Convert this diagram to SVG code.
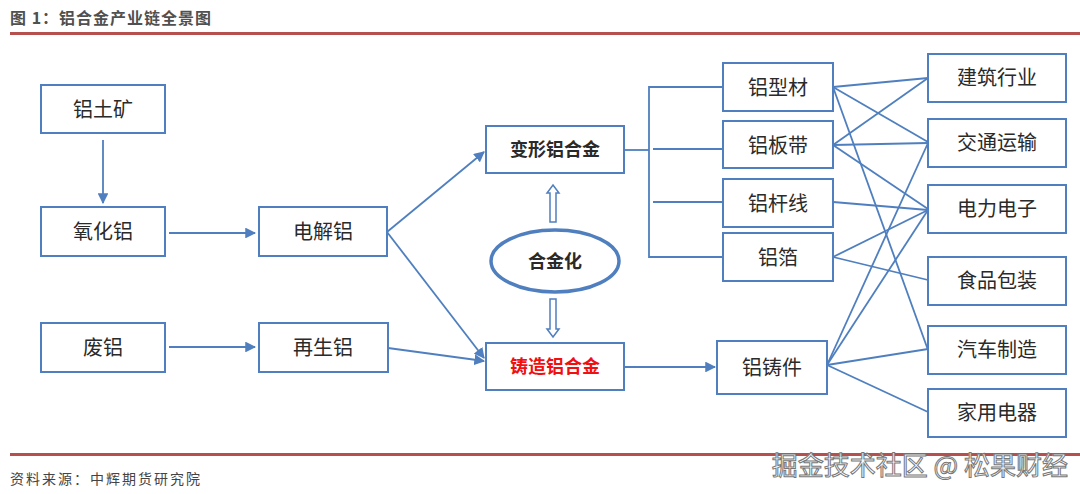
<svg xmlns="http://www.w3.org/2000/svg" width="1080" height="494" viewBox="0 0 1080 494">
<style>
.box{fill:#fff;stroke:#4f7fbf;stroke-width:2}
.t{font-family:"Noto Sans CJK SC","Liberation Sans",sans-serif;font-size:20px;fill:#2a2a2a;text-anchor:middle;dominant-baseline:central}
.b{font-weight:bold;font-size:18px}
.ln{stroke:#4f7fbf;stroke-width:1.8;fill:none}
.ar{stroke:#4f7fbf;stroke-width:1.8;fill:none;marker-end:url(#ah)}
.hol{fill:#fff;stroke:#4f7fbf;stroke-width:1.5}
</style>
<defs>
<marker id="ah" viewBox="0 0 10 10" refX="9" refY="5" markerWidth="6" markerHeight="6" markerUnits="strokeWidth" orient="auto">
<path d="M0,0 L10,5 L0,10 z" fill="#4f7fbf"/>
</marker>
</defs>
<rect width="1080" height="494" fill="#fff"/>
<text x="10" y="17" font-family="Noto Sans CJK SC,sans-serif" font-size="16" font-weight="bold" fill="#505050" letter-spacing="1" dominant-baseline="central">图 1：铝合金产业链全景图</text>
<rect x="10" y="32" width="1070" height="3" fill="#b5504f"/>
<rect x="10" y="453" width="1070" height="3" fill="#b5504f"/>
<text x="10" y="478" font-family="Noto Sans CJK SC,sans-serif" font-size="14" fill="#444" letter-spacing="2" dominant-baseline="central">资料来源：中辉期货研究院</text>
<text x="1068" y="463" font-family="Noto Sans CJK SC,sans-serif" font-size="26" fill="#fff" stroke="#777" stroke-width="1" text-anchor="end" dominant-baseline="central">掘金技术社区 @ 松果财经</text>

<g id="connectors">
<line class="ar" x1="103" y1="140" x2="103" y2="203"/>
<line class="ar" x1="169" y1="233" x2="255" y2="233"/>
<line class="ar" x1="169" y1="347" x2="255" y2="347"/>
<line class="ar" x1="387" y1="232" x2="484" y2="152"/>
<line class="ar" x1="387" y1="232" x2="484" y2="358"/>
<line class="ar" x1="388" y1="348" x2="484" y2="361"/>
<line class="ar" x1="624" y1="367" x2="715" y2="367"/>
<polyline class="ln" points="723,87 649,87 649,257 723,257"/>
<line class="ln" x1="624" y1="150" x2="649" y2="150"/>
<line class="ln" x1="653" y1="149" x2="723" y2="149" stroke-width="2.5"/>
<line class="ln" x1="653" y1="202" x2="723" y2="202" stroke-width="2.5"/>
<polygon class="hol" points="553,185 559,193 556,193 556,222 550,222 550,193 547,193"/>
<polygon class="hol" points="553,337 559,329 556,329 556,299 550,299 550,329 547,329"/>
<line class="ln" x1="833" y1="87" x2="928" y2="78"/>
<line class="ln" x1="833" y1="87" x2="928" y2="142"/>
<line class="ln" x1="833" y1="87" x2="928" y2="350"/>
<line class="ln" x1="833" y1="145" x2="928" y2="78"/>
<line class="ln" x1="833" y1="145" x2="928" y2="143"/>
<line class="ln" x1="833" y1="145" x2="928" y2="209"/>
<line class="ln" x1="833" y1="202" x2="928" y2="210"/>
<line class="ln" x1="833" y1="257" x2="928" y2="210"/>
<line class="ln" x1="833" y1="257" x2="928" y2="280"/>
<line class="ln" x1="827" y1="365" x2="928" y2="143"/>
<line class="ln" x1="827" y1="365" x2="928" y2="210"/>
<line class="ln" x1="827" y1="365" x2="928" y2="349"/>
<line class="ln" x1="827" y1="365" x2="928" y2="412"/>
</g>

<g id="n-bauxite"><rect class="box" x="41" y="85" width="124" height="48"/><text class="t" x="103" y="108">铝土矿</text></g>
<g id="n-alumina"><rect class="box" x="41" y="207" width="124" height="49"/><text class="t" x="103" y="230">氧化铝</text></g>
<g id="n-scrap"><rect class="box" x="41" y="323" width="124" height="49"/><text class="t" x="103" y="346">废铝</text></g>
<g id="n-electro"><rect class="box" x="259" y="207" width="128" height="49"/><text class="t" x="323" y="230">电解铝</text></g>
<g id="n-recycled"><rect class="box" x="259" y="323" width="129" height="49"/><text class="t" x="323" y="346">再生铝</text></g>
<g id="n-wrought"><rect class="box" x="486" y="126" width="138" height="47"/><text class="t b" x="555" y="148">变形铝合金</text></g>
<g id="n-cast"><rect class="box" x="486" y="343" width="138" height="47"/><text class="t b" x="555" y="365" style="fill:#f01010">铸造铝合金</text></g>
<g id="n-alloying"><ellipse cx="555" cy="261" rx="64" ry="31" fill="#fff" stroke="#4f7fbf" stroke-width="3.5"/><text class="t b" x="555" y="260">合金化</text></g>
<g id="n-profile"><rect class="box" x="723" y="63" width="110" height="48"/><text class="t" x="778" y="86">铝型材</text></g>
<g id="n-sheet"><rect class="box" x="723" y="121" width="110" height="47"/><text class="t" x="778" y="144">铝板带</text></g>
<g id="n-rod"><rect class="box" x="723" y="179" width="110" height="48"/><text class="t" x="778" y="202">铝杆线</text></g>
<g id="n-foil"><rect class="box" x="723" y="233" width="110" height="48"/><text class="t" x="778" y="256">铝箔</text></g>
<g id="n-casting"><rect class="box" x="717" y="341" width="110" height="53"/><text class="t" x="772" y="366">铝铸件</text></g>
<g id="n-build"><rect class="box" x="928" y="54" width="138" height="48"/><text class="t" x="997" y="76">建筑行业</text></g>
<g id="n-transport"><rect class="box" x="928" y="119" width="138" height="48"/><text class="t" x="997" y="141">交通运输</text></g>
<g id="n-power"><rect class="box" x="928" y="185" width="138" height="48"/><text class="t" x="997" y="207">电力电子</text></g>
<g id="n-food"><rect class="box" x="928" y="257" width="138" height="48"/><text class="t" x="997" y="279">食品包装</text></g>
<g id="n-auto"><rect class="box" x="928" y="326" width="138" height="48"/><text class="t" x="997" y="348">汽车制造</text></g>
<g id="n-appliance"><rect class="box" x="928" y="389" width="138" height="48"/><text class="t" x="997" y="411">家用电器</text></g>
</svg>
